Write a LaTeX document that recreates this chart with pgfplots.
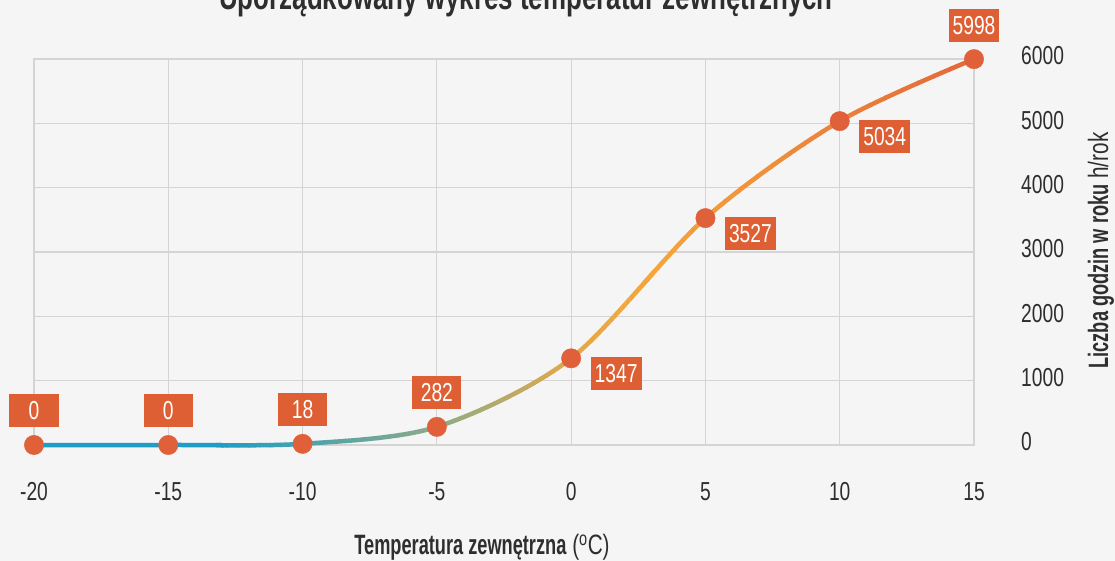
\documentclass[border=0pt]{standalone}
\usepackage{fontspec}
\setmainfont{Liberation Sans}[FakeStretch=0.74, BoldFeatures={FakeStretch=0.65}]
\newfontfamily\titlefam{Liberation Sans Bold}[FakeStretch=0.72]
\usepackage{pgfplots}
\usepackage{pgfplotstable}
\pgfplotsset{compat=1.18}
\definecolor{bgc}{HTML}{F5F5F5}
\definecolor{gridc}{HTML}{D4D4D4}
\definecolor{txt}{HTML}{2E2E2E}
\definecolor{dotc}{HTML}{E0603A}
\definecolor{labc}{HTML}{DE5F33}
\definecolor{g0}{HTML}{1E9DC6}
\definecolor{g1}{HTML}{8EAA88}
\definecolor{g2}{HTML}{E2A948}
\definecolor{g3}{HTML}{F5A53A}
\definecolor{g4}{HTML}{E4683A}

\pgfplotstableread{
x y
-20 0
-15 0
-10 18
-5 282
0 1347
5 3527
10 5034
15 5998
}\curvedata

\pgfplotstableread{
x y label
-20 0 0
-15 0 0
-10 18 18
-5 282 282
15 5998 5998
}\lababove

\pgfplotstableread{
x y label
0 1347 1347
5 3527 3527
10 5034 5034
}\labright

\newcommand\ticksfont{\fontsize{26}{28}\selectfont}
\newcommand\labfont{\fontsize{28}{30}\selectfont}

\begin{document}
\begin{tikzpicture}
\path[use as bounding box, fill=bgc] (0,0) rectangle (1115pt,561pt);

\node[anchor=base, text=txt, font=\fontsize{36}{40}\selectfont\titlefam] at (526pt,551.5pt) {Uporządkowany wykres temperatur zewnętrznych};

\begin{axis}[
  at={(34pt,116pt)}, anchor=south west,
  scale only axis, width=940pt, height=386pt,
  xmin=-20, xmax=15, ymin=0, ymax=6000,
  xtick={-20,-15,-10,-5,0,5,10,15},
  xticklabels={-20,-15,-10,-5,0,5,10,15},
  ytick={0,1000,2000,3000,4000,5000,6000},
  yticklabels={0,1000,2000,3000,4000,5000,6000},
  yticklabel pos=right,
  grid=major,
  major grid style={draw=gridc, line width=1.2pt},
  axis line style={draw=gridc, line width=1.2pt},
  major tick length=0pt,
  tick style={draw=none},
  xticklabel style={anchor=north, inner sep=0pt, yshift=-37pt, font=\ticksfont, text=txt},
  yticklabel style={anchor=west, inner sep=0pt, xshift=47pt, yshift=3pt, font=\ticksfont, text=txt},
  clip=false,
]
% constant blue part
\begin{scope}
\clip (axis cs:-21,-3000) rectangle (axis cs:-12.95,9000);
\addplot[smooth, line width=4.5pt, color=g0] table {\curvedata};
\end{scope}
\pgfplotsinvokeforeach{0,5,...,100}{
\begin{scope}
\clip (axis cs:{-13+8*(#1-2.7)/100},-3000) rectangle (axis cs:{-13+8*(#1+2.7)/100},9000);
\addplot[smooth, line width=4.5pt, color=g1!#1!g0] table {\curvedata};
\end{scope}
}
\pgfplotsinvokeforeach{0,5,...,100}{
\begin{scope}
\clip (axis cs:{-5+5*(#1-2.7)/100},-3000) rectangle (axis cs:{-5+5*(#1+2.7)/100},9000);
\addplot[smooth, line width=4.5pt, color=g2!#1!g1] table {\curvedata};
\end{scope}
}
\pgfplotsinvokeforeach{0,5,...,100}{
\begin{scope}
\clip (axis cs:{0+3*(#1-2.7)/100},-3000) rectangle (axis cs:{0+3*(#1+2.7)/100},9000);
\addplot[smooth, line width=4.5pt, color=g3!#1!g2] table {\curvedata};
\end{scope}
}
\pgfplotsinvokeforeach{0,5,...,100}{
\begin{scope}
\clip (axis cs:{3+12*(#1-2.7)/100},-3000) rectangle (axis cs:{3+12*(#1+2.7)/100},9000);
\addplot[smooth, line width=4.5pt, color=g4!#1!g3] table {\curvedata};
\end{scope}
}

\addplot[only marks, mark=*, mark size=9.7pt, color=dotc] table {\curvedata};

\addplot[draw=none, mark=none, nodes near coords={\pgfplotspointmeta}, point meta=explicit symbolic,
  nodes near coords style={anchor=center, yshift=34pt, fill=labc, text=white, minimum width=49pt, minimum height=33pt, inner xsep=4pt, inner ysep=0pt, font=\ticksfont}]
  table[meta=label] {\lababove};
\addplot[draw=none, mark=none, nodes near coords={\pgfplotspointmeta}, point meta=explicit symbolic,
  nodes near coords style={anchor=center, xshift=45pt, yshift=-15pt, fill=labc, text=white, minimum width=49pt, minimum height=33pt, inner xsep=4pt, inner ysep=0pt, font=\ticksfont}]
  table[meta=label] {\labright};
\end{axis}

\node[anchor=base, text=txt, font=\labfont] at (482pt,6pt) {\textbf{Temperatura zewnętrzna} (\textsuperscript{o}C)};
\node[anchor=base, rotate=90, text=txt, font=\labfont] at (1108pt,310.5pt) {\textbf{Liczba godzin w roku} h/rok};
\end{tikzpicture}
\end{document}
